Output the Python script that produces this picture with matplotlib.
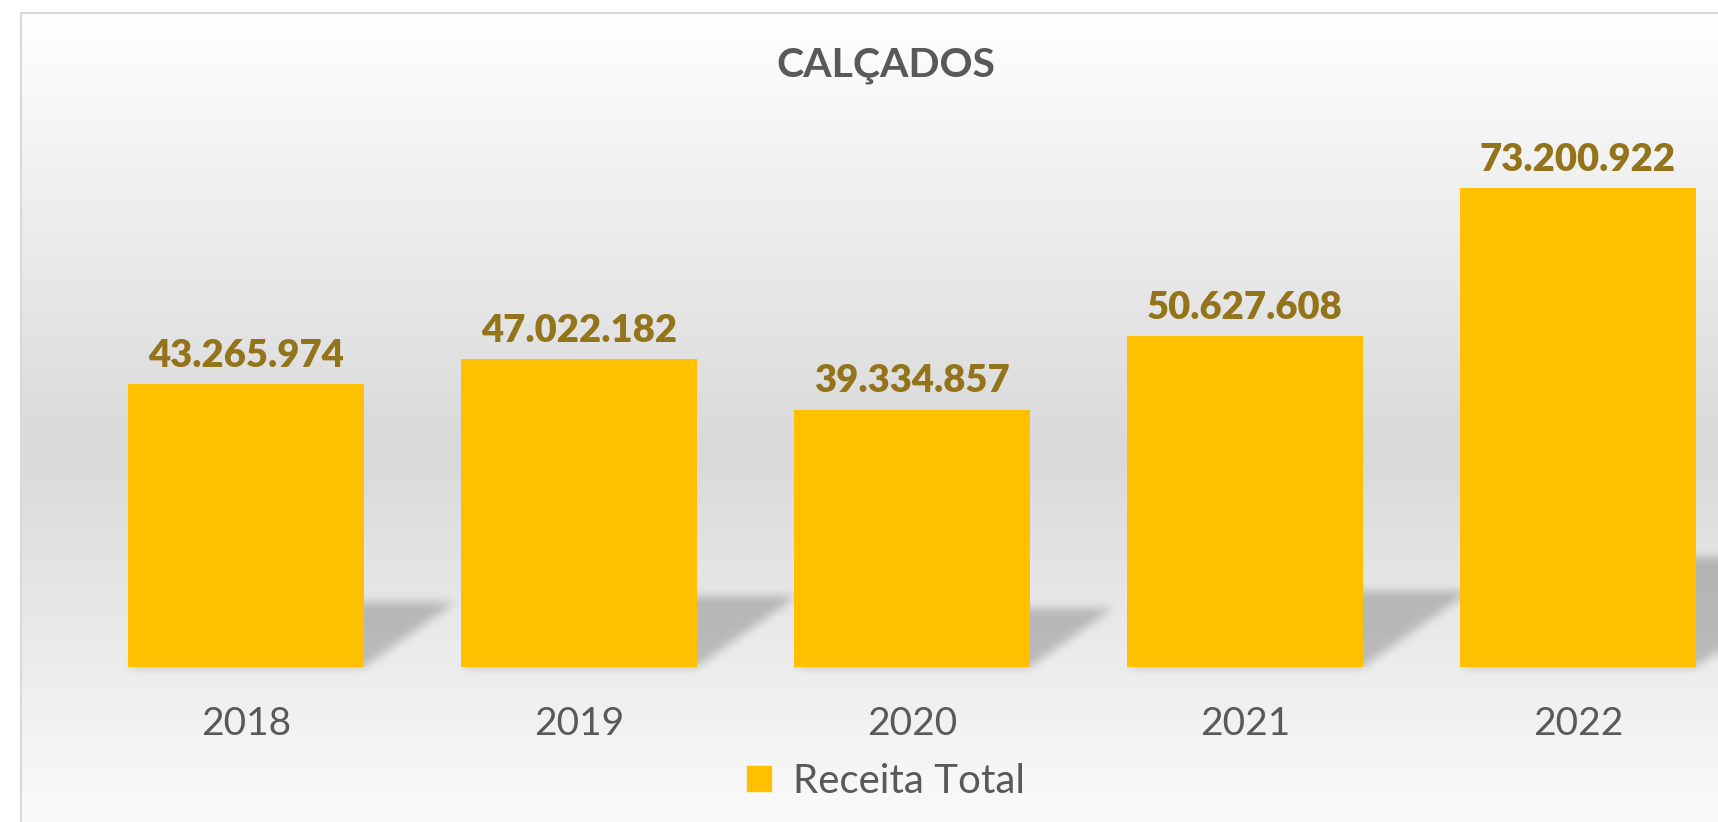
import numpy as np
import matplotlib
matplotlib.use('Agg')
import matplotlib.pyplot as plt
from matplotlib.path import Path
from matplotlib.patches import Patch, Rectangle

# data
years = ['2018', '2019', '2020', '2021', '2022']
receita = [43265974, 47022182, 39334857, 50627608, 73200922]
serie = 'Receita Total'
titulo = 'CALÇADOS'

bar_color = '#FFC000'
label_color = '#93741A'
text_color = '#595959'

plt.rcParams['font.family'] = ['Lato', 'DejaVu Sans']

W, H = 1718, 822
fig = plt.figure(figsize=(W / 100, H / 100), dpi=100)
fig.patch.set_facecolor('white')

# background axes (pixel coordinates) for gradient, shadows and border
bg = fig.add_axes([0, 0, 1, 1], zorder=0)
bg.set_xlim(0, W)
bg.set_ylim(0, H)
bg.axis('off')

top_px = H - 13
yy = np.arange(H) + 0.5
shade = np.interp(yy, [-48, H - 450, top_px], [1.0, 0.851, 1.0])
shade[yy > top_px] = 1.0
grad = np.repeat(shade[:, None, None], 3, axis=2)
bg.imshow(grad, extent=[21, W, 0, H], origin='lower', aspect='auto',
          interpolation='bilinear', zorder=0)

# main axes
ax = fig.add_axes([79.5 / W, 155 / H, 1665 / W, 523.5 / H], zorder=1)
ax.patch.set_alpha(0)
bw = 0.709
x = np.arange(len(years))
bars = ax.bar(x, receita, width=bw, color=bar_color, zorder=3)
ax.set_xlim(-0.5, len(years) - 0.5)
ax.set_ylim(0, 80e6)
for s in ax.spines.values():
    s.set_visible(False)
ax.set_yticks([])
ax.set_xticks(x)
ax.set_xticklabels(years, fontsize=28, color=text_color)
ax.tick_params(axis='x', length=0, pad=28)

for xi, v in zip(x, receita):
    ax.annotate(f'{v:,}'.replace(',', '.'), (xi, v), xytext=(0, 8),
                textcoords='offset points', ha='center', va='bottom',
                fontsize=27.5, fontweight='heavy', color=label_color)

# perspective shadows, rasterised and blurred
gx, gy = np.meshgrid(np.arange(W) + 0.5, np.arange(H) + 0.5)
pts = np.column_stack([gx.ravel(), gy.ravel()])
mask = np.zeros(H * W)
for xi, v in zip(x, receita):
    p0 = ax.transData.transform((xi - bw / 2, 0))
    p1 = ax.transData.transform((xi + bw / 2, 0))
    ptop = ax.transData.transform((xi, v))
    sh = 0.23 * (ptop[1] - p0[1])
    sk = 1.4 * sh
    poly = Path([(p0[0], p0[1]), (p1[0], p1[1]),
                 (p1[0] + sk, p1[1] + sh), (p0[0] + sk, p0[1] + sh)])
    mask = np.maximum(mask, poly.contains_points(pts).astype(float))
mask = mask.reshape(H, W)


def box_blur(a, r):
    k = 2 * r + 1
    p = np.pad(a, ((r + 1, r), (0, 0)), mode='edge')
    c = np.cumsum(p, axis=0)
    a = (c[k:] - c[:-k]) / k
    p = np.pad(a, ((0, 0), (r + 1, r)), mode='edge')
    c = np.cumsum(p, axis=1)
    return (c[:, k:] - c[:, :-k]) / k


for _ in range(3):
    mask = box_blur(mask, 4)

shadow = np.zeros((H, W, 4))
shadow[..., 3] = mask * 0.21
bg.imshow(shadow, extent=[0, W, 0, H], origin='lower', aspect='auto',
          interpolation='nearest', zorder=1)

# chart border
bg.add_patch(Rectangle((21, -20), W + 50, top_px + 20, fill=False,
                       edgecolor='#d9d9d9', lw=1.5, zorder=2))
bg.set_xlim(0, W)
bg.set_ylim(0, H)

fig.text(886 / W, (H - 76) / H, titulo, ha='center', va='baseline',
         fontsize=29.5, fontweight='bold', color=text_color)

fig.legend(handles=[Patch(color=bar_color, label=serie)], loc='center',
           bbox_to_anchor=(886 / W, 41 / H), frameon=False, fontsize=29,
           handlelength=0.6, handleheight=0.6, handletextpad=0.55,
           labelcolor=text_color, borderaxespad=0)

plt.savefig('out.png', dpi=100)
